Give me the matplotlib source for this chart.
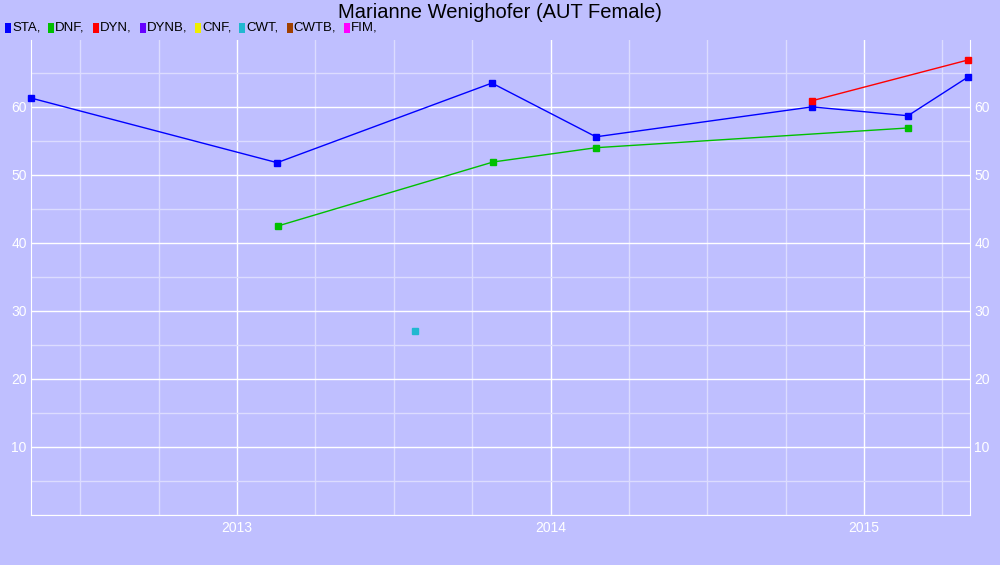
import matplotlib
matplotlib.use("Agg")
import matplotlib.pyplot as plt
from matplotlib.patches import Rectangle
from matplotlib.ticker import MultipleLocator, FixedLocator

plt.rcParams['font.family'] = ['Liberation Sans', 'DejaVu Sans']

title = "Marianne Wenighofer (AUT Female)"
legend_names = ["STA", "DNF", "DYN", "DYNB", "CNF", "CWT", "CWTB", "FIM"]
legend_colors = ["#0000FF", "#00C000", "#FF0000", "#6600FF", "#EEEE00", "#20B8D0", "#A04000", "#FF00FF"]

sta_x = [2012.343, 2013.128, 2013.813, 2014.145, 2014.834, 2015.140, 2015.332]
sta_y = [61.3, 51.8, 63.5, 55.6, 60.0, 58.7, 64.4]
dnf_x = [2013.131, 2013.817, 2014.145, 2015.140]
dnf_y = [42.5, 51.9, 54.0, 56.9]
dyn_x = [2014.834, 2015.332]
dyn_y = [60.9, 66.9]
cwt_x = [2013.568]
cwt_y = [27.1]

year_ticks = [2013, 2014, 2015]
year_labels = ["2013", "2014", "2015"]
y_ticks = [10, 20, 30, 40, 50, 60]

bg = "#BFBFFF"
fig = plt.figure(figsize=(10, 5.65), dpi=100, facecolor=bg)
ax = fig.add_axes([0.031, 0.0885, 0.939, 0.8415], facecolor=bg)

ax.set_xlim(2012.343, 2015.338)
ax.set_ylim(0, 69.9)

ax.xaxis.set_major_locator(FixedLocator(year_ticks))
ax.set_xticklabels(year_labels)
ax.xaxis.set_minor_locator(MultipleLocator(0.25))
ax.yaxis.set_major_locator(FixedLocator(y_ticks))
ax.yaxis.set_minor_locator(MultipleLocator(5))

ax.grid(which='major', color='white', linewidth=1.0)
ax.grid(which='minor', color='#DCDCFF', linewidth=1.0)
ax.set_axisbelow(True)

for s in ax.spines.values():
    s.set_visible(False)
for side in ('left', 'right', 'bottom'):
    ax.spines[side].set_visible(True)
    ax.spines[side].set_color('white')

ax.tick_params(which='both', length=0, colors='white', labelsize=10)
ax.tick_params(axis='y', labelright=True, pad=3)
ax.tick_params(axis='x', pad=4)

ms = 5
ax.plot(sta_x, sta_y, color=legend_colors[0], lw=1, marker='s', ms=ms, clip_on=False, zorder=3)
ax.plot(dnf_x, dnf_y, color=legend_colors[1], lw=1, marker='s', ms=ms, clip_on=False, zorder=3)
ax.plot(dyn_x, dyn_y, color=legend_colors[2], lw=1, marker='s', ms=ms, clip_on=False, zorder=3)
ax.plot(cwt_x, cwt_y, color=legend_colors[5], lw=0, marker='s', ms=ms, clip_on=False, zorder=3)

fig.text(0.5, 0.978, title, ha='center', va='center', fontsize=14.5, color='black')

# legend row
fig.canvas.draw()
renderer = fig.canvas.get_renderer()
x = 5
for name, col in zip(legend_names, legend_colors):
    fig.patches.append(Rectangle((x / 1000, (565 - 33) / 565), 6 / 1000, 10 / 565,
                                 transform=fig.transFigure, facecolor=col, edgecolor='none'))
    t = fig.text((x + 7) / 1000, (565 - 28) / 565, name + ",", ha='left', va='center',
                 fontsize=9.5, color='black')
    bb = t.get_window_extent(renderer)
    x = bb.x1 + 8

fig.savefig("out.png", dpi=100, facecolor=bg)
